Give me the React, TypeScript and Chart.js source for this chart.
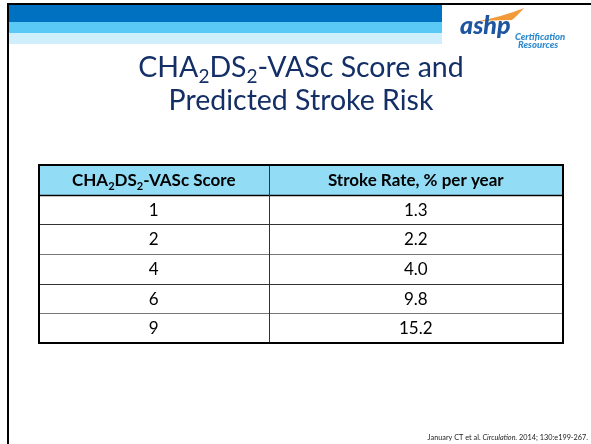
import React, { useEffect, useRef } from "react";
import { Chart, registerables } from "chart.js";

Chart.register(...registerables);

// ---- data ----
const titleLines = ["CHA_2DS_2-VASc Score and", "Predicted Stroke Risk"];
const columnHeaders = ["CHA_2DS_2-VASc Score", "Stroke Rate, % per year"];
const scores = ["1", "2", "4", "6", "9"];
const strokeRates = [1.3, 2.2, 4.0, 9.8, 15.2];
const footnoteParts = [
  { t: "January CT et al. ", italic: false },
  { t: "Circulation.", italic: true },
  { t: " 2014; 130:e199-267.", italic: false },
];
const rowLabels = ["header", ...scores];

const FONT = "Lato, 'Open Sans', sans-serif";
const NAVY = "#142F66";

type Seg = { t: string; sub: boolean };
function parseRich(s: string): Seg[] {
  const out: Seg[] = [];
  const re = /_(\d)/g;
  let last = 0;
  let m: RegExpExecArray | null;
  while ((m = re.exec(s))) {
    if (m.index > last) out.push({ t: s.slice(last, m.index), sub: false });
    out.push({ t: m[1], sub: true });
    last = m.index + m[0].length;
  }
  if (last < s.length) out.push({ t: s.slice(last), sub: false });
  return out;
}

function drawRich(
  ctx: CanvasRenderingContext2D,
  s: string,
  cx: number,
  baseline: number,
  size: number,
  weight: string,
  color: string
) {
  const segs = parseRich(s);
  const fontFor = (sub: boolean) =>
    `${weight} ${sub ? Math.round(size * 0.65) : size}px ${FONT}`;
  let total = 0;
  const widths = segs.map((sg) => {
    ctx.font = fontFor(sg.sub);
    const w = ctx.measureText(sg.t).width;
    total += w;
    return w;
  });
  let x = cx - total / 2;
  ctx.fillStyle = color;
  ctx.textAlign = "left";
  ctx.textBaseline = "alphabetic";
  segs.forEach((sg, i) => {
    ctx.font = fontFor(sg.sub);
    ctx.fillText(sg.t, x, baseline + (sg.sub ? size * 0.22 : 0));
    x += widths[i];
  });
}

const slidePlugin = {
  id: "slide",
  beforeDraw(chart: any) {
    const ctx: CanvasRenderingContext2D = chart.ctx;
    const W = chart.width;
    const H = chart.height;
    ctx.save();
    ctx.fillStyle = "#ffffff";
    ctx.fillRect(0, 0, W, H);
    // header bands
    ctx.fillStyle = "#0070C0";
    ctx.fillRect(9, 5, 433, 17);
    ctx.fillStyle = "#5BC9F5";
    ctx.fillRect(9, 22, 433, 11);
    ctx.fillStyle = "#CFEFFC";
    ctx.fillRect(9, 33, 433, 11);
    // frame
    ctx.fillStyle = "#000000";
    ctx.fillRect(7, 3, W - 7, 2);
    ctx.fillRect(7, 3, 2, H - 3);
    // logo swoosh
    ctx.fillStyle = "#F29A3A";
    ctx.beginPath();
    ctx.moveTo(474, 22);
    ctx.quadraticCurveTo(502, 17, 524, 8);
    ctx.quadraticCurveTo(517, 16, 512, 20);
    ctx.quadraticCurveTo(492, 20, 474, 22);
    ctx.closePath();
    ctx.fill();
    ctx.fillStyle = "#1D559F";
    ctx.font = `italic 900 25px ${FONT}`;
    ctx.textAlign = "left";
    ctx.textBaseline = "alphabetic";
    ctx.fillText("ashp", 460, 34);
    ctx.fillStyle = "#2F8BCF";
    ctx.font = `italic 900 9.5px ${FONT}`;
    ctx.fillText("Certification", 515, 40);
    ctx.fillText("Resources", 518, 48);
    // title
    drawRich(ctx, titleLines[0], 301, 77, 28.5, "normal", NAVY);
    drawRich(ctx, titleLines[1], 301, 110, 28.5, "normal", NAVY);
    ctx.restore();
  },
  afterDatasetsDraw(chart: any) {
    const ctx: CanvasRenderingContext2D = chart.ctx;
    const xs = chart.scales.x;
    const ys = chart.scales.y;
    const left = xs.getPixelForValue(0);
    const right = xs.getPixelForValue(1);
    const split = xs.getPixelForValue(0.438);
    const rowH = ys.height / rowLabels.length;
    const top = ys.getPixelForValue(0) - rowH / 2;
    const bottom = ys.getPixelForValue(rowLabels.length - 1) + rowH / 2;
    const c1 = (left + split) / 2;
    const c2 = (split + right) / 2;
    ctx.save();
    // inner horizontal lines
    for (let i = 1; i < rowLabels.length; i++) {
      const y = Math.round(ys.getPixelForValue(i) - rowH / 2) + 0.5;
      ctx.strokeStyle = i === 1 ? "#000" : i % 2 === 0 ? "#333" : "#777";
      ctx.lineWidth = i === 1 ? 1.5 : 1;
      ctx.beginPath();
      ctx.moveTo(left, y);
      ctx.lineTo(right, y);
      ctx.stroke();
    }
    // vertical divider
    ctx.strokeStyle = "#333";
    ctx.lineWidth = 1;
    ctx.beginPath();
    ctx.moveTo(Math.round(split) + 0.5, top);
    ctx.lineTo(Math.round(split) + 0.5, bottom);
    ctx.stroke();
    // outer border
    ctx.strokeStyle = "#000";
    ctx.lineWidth = 2;
    ctx.strokeRect(left, top, right - left, bottom - top);
    // header text
    const hy = ys.getPixelForValue(0) + 6;
    drawRich(ctx, columnHeaders[0], c1, hy, 17, "bold", "#000");
    drawRich(ctx, columnHeaders[1], c2, hy, 17, "bold", "#000");
    // body text
    scores.forEach((s, i) => {
      const y = ys.getPixelForValue(i + 1) + 6;
      drawRich(ctx, s, c1, y, 17, "normal", "#000");
      drawRich(ctx, strokeRates[i].toFixed(1), c2, y, 17, "normal", "#000");
    });
    ctx.restore();
  },
  afterDraw(chart: any) {
    const ctx: CanvasRenderingContext2D = chart.ctx;
    ctx.save();
    ctx.fillStyle = "#222";
    ctx.textBaseline = "alphabetic";
    ctx.textAlign = "left";
    let total = 0;
    const fonts = footnoteParts.map((p) => `${p.italic ? "italic " : ""}7.3px ${FONT}`);
    const ws = footnoteParts.map((p, i) => {
      ctx.font = fonts[i];
      const w = ctx.measureText(p.t).width;
      total += w;
      return w;
    });
    let x = 588 - total;
    footnoteParts.forEach((p, i) => {
      ctx.font = fonts[i];
      ctx.fillText(p.t, x, 440);
      x += ws[i];
    });
    ctx.restore();
  },
};

export default function App() {
  const ref = useRef<HTMLCanvasElement | null>(null);
  useEffect(() => {
    if (!ref.current) return;
    const chart = new Chart(ref.current, {
      type: "bar",
      data: {
        labels: rowLabels,
        datasets: [
          {
            data: rowLabels.map((_, i) => (i === 0 ? [0, 1] : null)) as any,
            backgroundColor: "#92DCF6",
            borderWidth: 0,
            barPercentage: 1,
            categoryPercentage: 1,
          },
        ],
      },
      options: {
        indexAxis: "y",
        responsive: false,
        animation: false,
        devicePixelRatio: 1,
        layout: { padding: { left: 39, right: 28, top: 165, bottom: 101 } },
        scales: {
          x: { type: "linear", min: 0, max: 1, display: false },
          y: { type: "category", display: false },
        },
        plugins: {
          legend: { display: false },
          tooltip: { enabled: false },
          title: { display: false },
        },
      },
      plugins: [slidePlugin],
    });
    return () => chart.destroy();
  }, []);
  return (
    <div style={{ position: "fixed", left: 0, top: 0, width: 591, height: 444, background: "#fff" }}>
      <canvas ref={ref} width={591} height={444} style={{ display: "block" }} />
    </div>
  );
}
